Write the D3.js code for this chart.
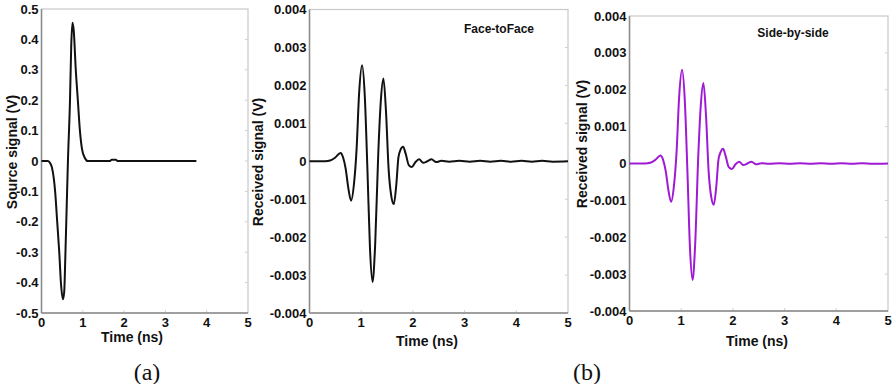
<!DOCTYPE html>
<html>
<head>
<meta charset="utf-8">
<script src="https://cdn.jsdelivr.net/npm/d3@7"></script>
<style>
  body { margin: 0; background: #fff; }
  svg { display: block; }
  .tick-label { font-family: "Liberation Sans Narrow", "Arial Narrow", "Liberation Sans", Arial, sans-serif; font-weight: bold; font-size: 13px; fill: #111; }
  .axis-title { font-family: "Liberation Sans Narrow", "Arial Narrow", "Liberation Sans", Arial, sans-serif; font-weight: bold; font-size: 14px; fill: #111; }
  .note { font-family: "Liberation Sans", Arial, sans-serif; font-size: 12px; fill: #111; }
  .panel-tag { font-family: "Liberation Serif", "Times New Roman", serif; font-size: 24px; fill: #111; }
</style>
</head>
<body>
<svg id="chart" width="893" height="384"></svg>
<script>
// --- Data ---
const timeTicks = [0, 1, 2, 3, 4, 5];
const sourceTicks = [-0.5, -0.4, -0.3, -0.2, -0.1, 0, 0.1, 0.2, 0.3, 0.4, 0.5];
const receivedTicks = [-0.004, -0.003, -0.002, -0.001, 0, 0.001, 0.002, 0.003, 0.004];

// source pulse: [time (ns), volts]
const sourceSignal = [
  [0, 0], [0.15, 0], [0.2, -0.005], [0.25, -0.02], [0.3, -0.06], [0.33, -0.1],
  [0.38, -0.2], [0.43, -0.3], [0.47, -0.4], [0.52, -0.455], [0.55, -0.43],
  [0.58, -0.3], [0.61, -0.15], [0.64, 0], [0.69, 0.2], [0.72, 0.38],
  [0.75, 0.455], [0.78, 0.43], [0.83, 0.3], [0.88, 0.2], [0.93, 0.1],
  [0.98, 0.04], [1.05, 0.01], [1.12, 0], [1.65, 0], [1.7, 0.004],
  [1.8, 0.004], [1.85, 0], [3.75, 0]
];

// received signal, face-to-face
const faceToFace = [
  [0, 0], [0.3, 0], [0.4, 0.00002], [0.5, 0.0001], [0.6, 0.00022], [0.65, 0.0001],
  [0.7, -0.0002], [0.75, -0.0007], [0.805, -0.00104], [0.86, -0.0006], [0.91, 0.0003],
  [0.96, 0.0018], [1.017, 0.00253], [1.07, 0.0017], [1.12, -0.0002], [1.17, -0.0023],
  [1.22, -0.00318], [1.27, -0.0022], [1.33, 0.0002], [1.38, 0.0016], [1.43, 0.00218],
  [1.48, 0.0013], [1.53, -0.0002], [1.58, -0.0009], [1.63, -0.00113], [1.68, -0.0006],
  [1.72, 0.0001], [1.76, 0.0003], [1.81, 0.00038], [1.86, 0.0002], [1.92, -0.0001],
  [1.98, -0.00015], [2.05, -0.00002], [2.12, 0.00005], [2.2, -0.00004], [2.28, 0],
  [2.36, 0.00005], [2.45, -0.00002], [2.55, 0.00001], [2.7, -0.00001], [2.9, 0.00001],
  [3.1, -0.00001], [3.3, 0.00001], [3.5, -0.00001], [3.7, 0.00001], [3.9, -0.00001],
  [4.1, 0.00001], [4.3, -0.00001], [4.5, 0.00001], [4.7, -0.00001], [5, 0]
];

// received signal, side-by-side
const sideBySide = [
  [0, 0], [0.3, 0], [0.4, 0.00002], [0.5, 0.0001], [0.6, 0.00022], [0.65, 0.0001],
  [0.7, -0.0002], [0.75, -0.0007], [0.805, -0.00104], [0.86, -0.0006], [0.91, 0.0003],
  [0.96, 0.0018], [1.017, 0.00254], [1.07, 0.0017], [1.12, -0.0002], [1.17, -0.0023],
  [1.22, -0.00316], [1.27, -0.0022], [1.33, 0.0002], [1.38, 0.0016], [1.43, 0.00218],
  [1.48, 0.0013], [1.53, -0.0002], [1.58, -0.0009], [1.63, -0.00112], [1.68, -0.0006],
  [1.72, 0.0001], [1.76, 0.0003], [1.81, 0.00040], [1.86, 0.0002], [1.92, -0.0001],
  [1.98, -0.00015], [2.05, -0.00002], [2.12, 0.00005], [2.2, -0.00004], [2.28, 0],
  [2.36, 0.00005], [2.45, -0.00002], [2.55, 0.00001], [2.7, -0.00001], [2.9, 0.00001],
  [3.1, -0.00001], [3.3, 0.00001], [3.5, -0.00001], [3.7, 0.00001], [3.9, -0.00001],
  [4.1, 0.00001], [4.3, -0.00001], [4.5, 0.00001], [4.7, -0.00001], [5, 0]
];

const svg = d3.select("#chart");

// --- draw one panel ---
function drawPanel(opt) {
  const x = d3.scaleLinear().domain([0, 5]).range([opt.left, opt.right]);
  const y = d3.scaleLinear().domain(opt.yDomain).range([opt.bottom, opt.top]);
  const g = svg.append("g");

  // light frame (top / right)
  g.append("rect")
    .attr("x", opt.left).attr("y", opt.top)
    .attr("width", opt.right - opt.left).attr("height", opt.bottom - opt.top)
    .attr("fill", "none").attr("stroke", "#c8c8c8").attr("stroke-width", 1.2);

  // faint tick marks inside the right and bottom edges
  g.selectAll(".rtick").data(opt.yTicks.slice(1, -1)).enter().append("line")
    .attr("x1", opt.right - 3).attr("x2", opt.right)
    .attr("y1", d => y(d)).attr("y2", d => y(d))
    .attr("stroke", "#d0d0d0");
  g.selectAll(".btick").data(timeTicks.slice(1, -1)).enter().append("line")
    .attr("x1", d => x(d)).attr("x2", d => x(d))
    .attr("y1", opt.bottom - 3).attr("y2", opt.bottom)
    .attr("stroke", "#d0d0d0");

  // darker left and bottom axes
  g.append("line").attr("x1", opt.left).attr("x2", opt.left)
    .attr("y1", opt.top).attr("y2", opt.bottom)
    .attr("stroke", "#8a8a8a").attr("stroke-width", 1.5);
  g.append("line").attr("x1", opt.left).attr("x2", opt.right)
    .attr("y1", opt.bottom).attr("y2", opt.bottom)
    .attr("stroke", "#8a8a8a").attr("stroke-width", 1.5);

  // tick labels (plain hyphen for negatives, as in the original)
  g.selectAll(".ylab").data(opt.yTicks).enter().append("text")
    .attr("class", "tick-label")
    .attr("x", opt.left - 3).attr("y", d => y(d))
    .attr("dy", "0.35em").attr("text-anchor", "end")
    .text(d => d === 0 ? "0" : opt.fmt(d).replace("\u2212", "-"));
  g.selectAll(".xlab").data(timeTicks).enter().append("text")
    .attr("class", "tick-label")
    .attr("x", d => x(d)).attr("y", opt.bottom + 14)
    .attr("text-anchor", "middle")
    .text(d => d);

  // axis titles
  g.append("text").attr("class", "axis-title")
    .attr("x", opt.xTitleX).attr("y", opt.xTitleY)
    .attr("text-anchor", "middle").text("Time (ns)");
  g.append("text").attr("class", "axis-title")
    .attr("transform", `translate(${opt.yTitleX},${opt.yTitleY}) rotate(-90)`)
    .attr("text-anchor", "middle").attr("dy", "0.35em").text(opt.yTitle);

  if (opt.note) {
    g.append("text").attr("class", "note")
      .attr("x", opt.note.x).attr("y", opt.note.y)
      .attr("text-anchor", "middle").attr("dy", "0.35em")
      .style("font-weight", "bold")
      .text(opt.note.text);
  }

  const line = d3.line()
    .x(d => x(d[0])).y(d => y(d[1]))
    .curve(d3.curveMonotoneX);
  g.append("path").datum(opt.data)
    .attr("d", line)
    .attr("fill", "none")
    .attr("stroke", opt.color)
    .attr("stroke-width", 2)
    .attr("stroke-linejoin", "round");
}

drawPanel({
  left: 41.5, right: 248, top: 9, bottom: 313,
  yDomain: [-0.5, 0.5], yTicks: sourceTicks, fmt: d3.format(".1f"),
  yTitle: "Source signal (V)", yTitleX: 12, yTitleY: 152,
  xTitleX: 132, xTitleY: 342,
  data: sourceSignal, color: "#111"
});

drawPanel({
  left: 309.5, right: 568, top: 9.5, bottom: 313,
  yDomain: [-0.004, 0.004], yTicks: receivedTicks, fmt: d3.format(".3f"),
  yTitle: "Received signal (V)", yTitleX: 258, yTitleY: 162,
  xTitleX: 427, xTitleY: 346,
  note: { x: 499, y: 29, text: "Face-toFace" },
  data: faceToFace, color: "#111"
});

drawPanel({
  left: 629.5, right: 888, top: 16, bottom: 311,
  yDomain: [-0.004, 0.004], yTicks: receivedTicks, fmt: d3.format(".3f"),
  yTitle: "Received signal (V)", yTitleX: 582, yTitleY: 144,
  xTitleX: 757, xTitleY: 346,
  note: { x: 793, y: 33, text: "Side-by-side" },
  data: sideBySide, color: "#a01ad6"
});

// panel tags
svg.append("text").attr("class", "panel-tag").attr("x", 147).attr("y", 380)
  .attr("text-anchor", "middle").text("(a)");
svg.append("text").attr("class", "panel-tag").attr("x", 587).attr("y", 380)
  .attr("text-anchor", "middle").text("(b)");
</script>
</body>
</html>
